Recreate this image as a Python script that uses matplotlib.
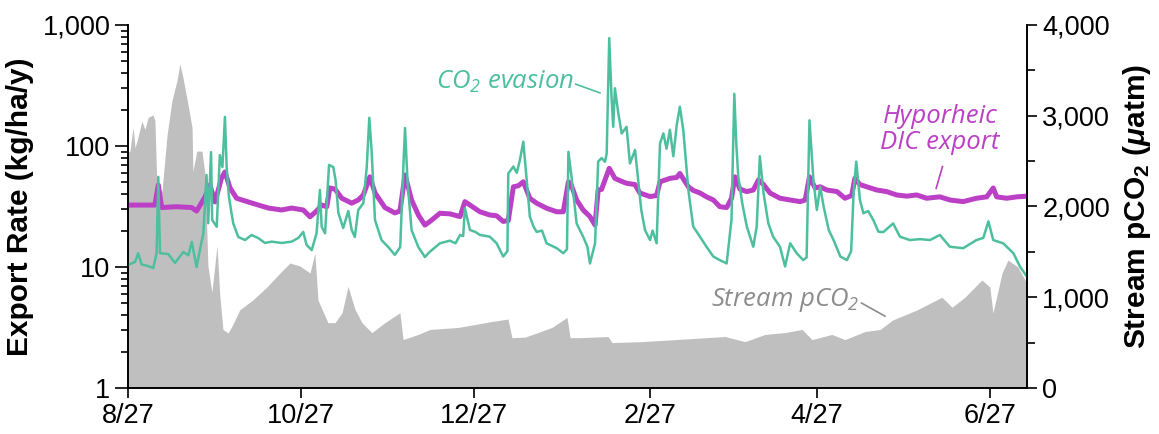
import datetime as dt
import matplotlib
matplotlib.use("Agg")
import matplotlib.pyplot as plt
from matplotlib.ticker import FixedLocator, NullFormatter

plt.rcParams["font.family"] = ["Liberation Sans", "DejaVu Sans"]
plt.rcParams["mathtext.fontset"] = "custom"
plt.rcParams["mathtext.it"] = "Liberation Sans:bold:italic"
plt.rcParams["mathtext.rm"] = "Liberation Sans:bold"

start_date = dt.date(2014, 8, 27)
end_day = 317

# Hyporheic DIC export (kg/ha/y), by day since 8/27
dic_day = [0, 5, 9.5, 10.7, 11.9, 17, 22.5, 24.2, 27.2, 28.9, 30.7, 33.0, 34.2, 36.0,
           38.3, 42.4, 46.0, 49.5, 54.2, 57.7, 61.8, 64.2, 66.5, 68.3, 70.1, 71.2,
           73.0, 75.4, 78.9, 81.2, 83.0, 85.3, 87.1, 90.6, 94.1, 95.9, 97.7, 100.0,
           102.4, 104.7, 106.5, 110.0, 113.5, 117.1, 118.8, 120.6, 124.1, 127.6,
           130.0, 132.3, 134.1, 135.9, 137.7, 139.4, 141.7, 144.1, 147.6, 151.2,
           153.5, 155.3, 156.4, 158.2, 160.5, 162.9, 164.7, 165.8, 167.0, 169.7,
           171.7, 174.1, 175.8, 178.8, 180.5, 184.1, 186.4, 187.6, 191.1, 193.5,
           194.6, 197.6, 199.3, 201.7, 204.0, 206.4, 208.7, 211.1, 212.8, 214.0,
           215.8, 218.2, 220.5, 222.3, 224.1, 226.4, 229.9, 233.5, 237.0, 238.8,
           240.3, 242.3, 244.1, 246.4, 250.0, 252.8, 255.2, 256.3, 258.1, 260.5,
           264.0, 267.5, 271.0, 274.6, 278.1, 281.6, 286.3, 289.8, 294.5, 299.2,
           302.8, 305.1, 306.3, 309.8, 313.4, 317]
dic_rate = [32.5, 32.5, 32.5, 47.6, 31, 31.5, 31, 29, 38, 47.6, 34.5, 54.5, 61, 45,
            37, 34.5, 32.5, 30.7, 29.6, 30.7, 29.6, 26, 29, 32.5, 31.5, 45,
            44, 37, 33.7, 35.8, 39.4, 55.6, 41, 31, 28, 29, 57.6, 35.8,
            26.9, 22.2, 23.8, 27.8, 27.5, 26.1, 34.7, 32.5, 28.6, 26.9,
            26.5, 23.8, 24.2, 46, 47, 50.6, 36.9, 33.7, 30.6, 28.6,
            28.6, 50.6, 47, 35.8, 29.6, 26.1, 22.2, 43.3, 43.8, 65.4,
            54, 51, 49.2, 48, 40.9, 38.2, 39, 50.6, 54, 55,
            59.3, 46, 43, 40.9, 38, 35.8, 31.5, 31, 36.9, 55.6,
            44, 42, 43.3, 52.4, 48, 40.9, 37, 35.8, 34.7, 35.8,
            55.6, 45, 46, 43.3, 42, 37, 39, 54, 48, 46,
            43.3, 42, 39.4, 38.5, 39.4, 37, 38, 35.8, 34.7, 37,
            38, 45, 38, 37, 38, 38.5]

# CO2 evasion (kg/ha/y)
evasion_day = [0, 2.5, 3.6, 4.8, 7, 8.9, 10.1, 10.7, 11.3, 14.2, 16.6, 19.5, 21.3, 22.5,
               24.2, 25.4, 26.6, 27.7, 28.3, 29.3, 29.7, 31.3, 32.4, 33.3, 34.2, 34.8,
               35.6, 37.1, 38.9, 41.3, 43.6, 46.0, 48.3, 50.7, 54.2, 57.7, 60.1, 61.8,
               63.0, 64.8, 66.5, 67.7, 68.3, 69.5, 70.9, 72.4, 73.2, 74.2, 75.9, 77.7,
               78.9, 80.0, 81.2, 83.0, 84.2, 85.1, 85.9, 87.1, 89.4, 91.8, 94.1, 96.0,
               97.1, 97.7, 98.6, 100.0, 102.4, 104.7, 106.5, 110.0, 113.5, 115.5, 117.1,
               118.2, 118.8, 120.6, 122.5, 124.1, 127.6, 130.0, 132.3, 133.8, 134.1,
               135.9, 137.1, 138.2, 139.4, 140.6, 141.7, 143.0, 144.1, 146.0, 147.6,
               151.2, 153.5, 154.8, 155.3, 156.4, 158.2, 160.5, 162.0, 162.9, 164.7,
               165.8, 167.0, 168.2, 168.8, 169.7, 170.5, 171.1, 171.7, 172.9, 174.1,
               175.8, 177.0, 178.8, 180.0, 181.0, 182.3, 184.1, 185.0, 186.4, 187.6,
               188.8, 189.9, 191.1, 192.3, 193.5, 194.6, 195.8, 197.6, 199.3, 201.7,
               204.0, 206.4, 208.7, 211.1, 212.8, 213.8, 214.5, 215.2, 216.6, 218.2,
               220.5, 221.7, 222.8, 224.1, 225.8, 227.5, 229.9, 231.7, 233.5, 235.8,
               238.1, 239.3, 240.3, 241.7, 242.9, 244.1, 245.3, 247.1, 248.8, 251.2,
               253.5, 255.0, 255.9, 256.8, 258.1, 259.3, 261.0, 262.8, 264.6, 266.3,
               269.8, 272.2, 275.7, 279.3, 282.8, 286.3, 289.8, 294.5, 299.2, 301.6,
               303.4, 305.1, 308.6, 312.2, 314.5, 317]
evasion_rate = [10.4, 11, 13, 10.5, 10.2, 9.8, 13, 55.6, 13, 12.8, 10.8, 13.3, 12.5, 16.1,
                10, 14, 19.1, 57.6, 23, 89, 24.5, 21.5, 84, 67, 174, 67,
                38, 23, 17.7, 16.7, 18.4, 17.3, 15.8, 16.2, 15.8, 16.2, 17.4, 19.5,
                15.2, 13.8, 19, 43.3, 21.5, 19, 69.7, 67, 52.4, 28, 21, 29,
                20.2, 17.7, 29.6, 33.7, 67, 171, 92.7, 24.5, 16.7, 14.6, 12.6, 14.6,
                67, 141, 49.6, 20.2, 14.6, 12.1, 13.4, 15.7, 16.5, 15.7, 18.4,
                18, 30.6, 20.2, 19.5, 18.4, 17.8, 15.7, 12.2, 13.5, 59.3,
                67.6, 60, 76.6, 108.7, 52.4, 26.1, 21.6, 19.5, 20, 15.7,
                14.3, 13, 14, 89.5, 55.6, 22.9, 17.8, 14.7, 10.7, 15.7,
                74.3, 79.5, 74, 86.7, 779, 256, 144, 300, 186, 127,
                144, 71.8, 92.7, 49.2, 29.6, 20.2, 16.7, 20, 15.7, 105,
                127, 95, 136, 82.3, 149, 211, 136, 43.3, 21.6, 17.8,
                14.7, 12.2, 11.4, 10.7, 24.5, 270, 105, 55.6, 33.7, 21.6,
                14.7, 21.6, 82.3, 40.9, 22.9, 17.8, 14.7, 10.1, 15.7, 13,
                11.4, 12, 163, 52.4, 29.6, 46, 31.5, 20.2, 16.7, 12.2,
                11.4, 13.5, 43.3, 74.3, 35.8, 27.8, 29, 24.5, 19.6, 19.4,
                22.9, 17.8, 16.7, 17, 16.7, 18.4, 14.7, 14.3, 16.7, 17.4,
                23.8, 16.7, 15.7, 13, 10.1, 8.3]

# Stream pCO2 (uatm)
pco2_day = [0, 0.7, 1.8, 2.5, 3.2, 4.9, 6.0, 7.1, 8.8, 9.5, 10.2, 12.0, 13.8, 15.5,
            17.3, 18.3, 19.4, 21.2, 22.6, 22.9, 24.3, 26.1, 27.2, 28.2, 29.6, 31.4,
            32.4, 33.5, 35.3, 37.0, 39.4, 44.0, 49.0, 53.6, 57.1, 60.6, 64.2, 65.9,
            67.0, 70.5, 73.0, 75.5, 77.6, 80.0, 82.5, 86.0, 90.6, 95.9, 97.0, 102.3,
            106.5, 116.4, 128.4, 134.0, 135.4, 140.0, 149.5, 154.8, 155.9, 159.4,
            169.3, 170.7, 181.2, 192.9, 210.5, 217.6, 224.6, 231.7, 237.7, 241.2,
            248.2, 252.8, 259.9, 265.2, 269.7, 278.2, 287.0, 290.6, 295.1, 301.1,
            303.9, 305.0, 308.2, 310.3, 313.8, 317]
pco2_value = [2600, 2610, 2870, 2650, 2720, 2940, 2850, 2980, 3010, 2950, 2235, 2165,
              2790, 3165, 3390, 3570, 3420, 3120, 2870, 2390, 2610, 2610, 2345, 1345,
              1055, 1567, 1010, 645, 606, 700, 860, 970, 1113, 1267, 1377, 1345, 1267,
              1488, 970, 720, 720, 830, 1120, 870, 720, 610, 720, 830, 533, 590,
              645, 667, 733, 760, 555, 560, 667, 778, 555, 555,
              567, 500, 511, 533, 567, 511, 590, 611, 645, 533,
              590, 533, 622, 645, 750, 860, 1000, 890, 1000, 1190,
              1113, 826, 1267, 1410, 1333, 1150]

tick_dates = [dt.date(2014, 8, 27), dt.date(2014, 10, 27), dt.date(2014, 12, 27),
              dt.date(2015, 2, 27), dt.date(2015, 4, 27), dt.date(2015, 6, 27)]
tick_labels = ["8/27", "10/27", "12/27", "2/27", "4/27", "6/27"]

left_ticks = [1, 10, 100, 1000]
left_labels = ["1", "10", "100", "1,000"]
right_ticks = [0, 1000, 2000, 3000, 4000]
right_labels = ["0", "1,000", "2,000", "3,000", "4,000"]

teal = "#4dbf9f"
magenta = "#bb40c6"
grey_fill = "#bfbfbf"
grey_text = "#8c8c8c"

fig = plt.figure(figsize=(11.59, 4.34), dpi=100)
ax = fig.add_axes([0.1104, 0.1060, 0.7757, 0.8364])
ax2 = ax.twinx()
ax.set_zorder(ax2.get_zorder() + 1)
ax.patch.set_visible(False)

# stream pCO2 as a filled area on the right axis
ax2.fill_between(pco2_day, 0, pco2_value, color=grey_fill, linewidth=0)
ax2.set_ylim(0, 4000)
ax2.yaxis.set_major_locator(FixedLocator(right_ticks))
ax2.set_yticklabels(right_labels)
ax2.yaxis.set_minor_locator(FixedLocator([500, 1500, 2500, 3500]))
ax2.tick_params(axis="y", which="major", length=7, width=1.2, labelsize=19.5, pad=4)
ax2.tick_params(axis="y", which="minor", length=5.5, width=1.2)
ax2.set_ylabel(r"Stream pCO$_\mathregular{2}$ ($\mathit{\mu}$atm)", fontsize=21.5,
               fontweight="bold", labelpad=8)

# export rates on the log axis
ax.plot(dic_day, dic_rate, color=magenta, lw=3.6)
ax.plot(evasion_day, evasion_rate, color=teal, lw=1.8)
ax.set_yscale("log")
ax.set_ylim(1, 1000)
ax.set_xlim(0, end_day)
ax.yaxis.set_major_locator(FixedLocator(left_ticks))
ax.set_yticklabels(left_labels)
minor = [m * 10 ** e for e in range(3) for m in range(2, 10)]
ax.yaxis.set_minor_locator(FixedLocator(minor))
ax.yaxis.set_minor_formatter(NullFormatter())
ax.tick_params(axis="y", which="major", length=9.5, width=1.2, labelsize=19.5, pad=3)
ax.tick_params(axis="y", which="minor", length=5, width=1.2)
ax.set_ylabel("Export Rate (kg/ha/y)", fontsize=21.5, fontweight="bold", labelpad=6)

tick_pos = [(d - start_date).days for d in tick_dates]
ax.set_xticks(tick_pos)
ax.set_xticklabels(tick_labels)
ax.tick_params(axis="x", which="major", length=7, width=1.2, labelsize=19.5, pad=4)

for a in (ax, ax2):
    a.spines["top"].set_visible(False)
    for s in ("left", "right", "bottom"):
        a.spines[s].set_linewidth(1.2)

# series labels
ital = dict(fontfamily=["Open Sans", "DejaVu Sans"], style="italic", fontsize=18.5)
ax.text(0.419, 0.843, r"CO$_\mathregular{2}$ evasion", color=teal, transform=ax.transAxes,
        ha="center", va="center", **ital)
ax.plot([0.498, 0.525], [0.837, 0.813], color=teal, lw=1.2, transform=ax.transAxes)
ax.text(0.903, 0.711, "Hyporheic\nDIC export", color=magenta, transform=ax.transAxes,
        ha="center", va="center", linespacing=1.05, **ital)
ax.plot([0.906, 0.899], [0.610, 0.550], color=magenta, lw=1.2, transform=ax.transAxes)
ax.text(0.731, 0.242, r"Stream pCO$_\mathregular{2}$", color=grey_text,
        transform=ax.transAxes, ha="center", va="center", **ital)
ax.plot([0.816, 0.842], [0.234, 0.198], color=grey_text, lw=1.2, transform=ax.transAxes)

fig.savefig("out.png", dpi=100)
